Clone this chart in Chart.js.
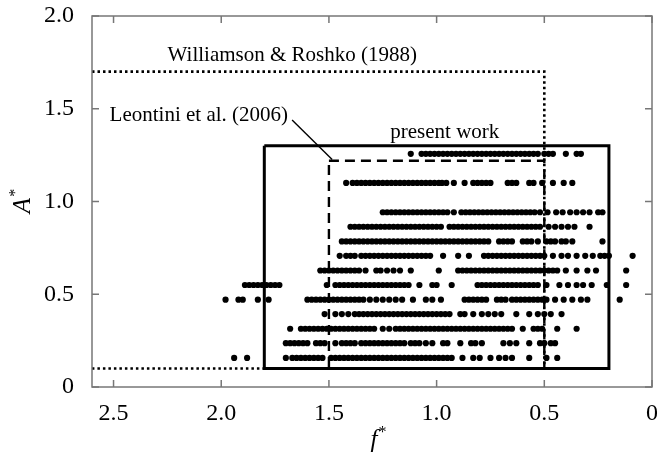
<!DOCTYPE html>
<html><head><meta charset="utf-8">
<script src="https://cdn.jsdelivr.net/npm/chart.js@4.4.1/dist/chart.umd.min.js"></script>
<style>html,body{margin:0;padding:0;background:#fff}canvas{display:block}</style>
</head><body>
<canvas id="c" width="657" height="454"></canvas>
<script>
// ---- tick labels ----
const xTicks = [2.5, 2.0, 1.5, 1.0, 0.5, 0];
const yTicks = [0, 0.5, 1.0, 1.5, 2.0];

// ---- amplitude rows (A*) ----
const rowAmplitudes = [1.257, 1.100, 0.942, 0.864, 0.785, 0.707, 0.628, 0.550, 0.471, 0.393, 0.314, 0.236, 0.157];

// ---- frequencies (f*) read for each row ----
const fRow1257 = [1.12,1.07,1.05,1.03,1.01,0.99,0.97,0.95,0.93,0.91,0.89,0.87,0.85,0.83,0.81,0.79,0.77,0.75,0.73,0.71,0.69,0.67,0.65,0.63,0.61,0.59,0.57,0.55,0.53,0.50,0.48,0.46,0.40,0.35,0.33];
const fRow1100 = [1.42,1.39,1.37,1.35,1.33,1.31,1.29,1.27,1.25,1.23,1.21,1.19,1.17,1.15,1.13,1.11,1.09,1.07,1.05,1.03,1.01,0.99,0.975,0.955,0.92,0.87,0.83,0.81,0.79,0.77,0.75,0.67,0.65,0.63,0.57,0.55,0.51,0.46,0.41,0.37];
const fRow0942 = [1.25,1.23,1.21,1.19,1.17,1.15,1.13,1.11,1.09,1.07,1.05,1.03,1.01,0.99,0.97,0.95,0.92,0.885,0.865,0.845,0.825,0.805,0.785,0.765,0.745,0.725,0.705,0.685,0.665,0.645,0.625,0.605,0.585,0.565,0.545,0.52,0.485,0.445,0.415,0.38,0.35,0.32,0.29,0.25,0.23];
const fRow0864 = [1.40,1.38,1.36,1.34,1.32,1.30,1.28,1.26,1.24,1.22,1.20,1.18,1.16,1.14,1.12,1.10,1.08,1.06,1.04,1.02,1.00,0.98,0.94,0.92,0.90,0.88,0.86,0.84,0.82,0.80,0.78,0.76,0.74,0.72,0.70,0.68,0.66,0.64,0.62,0.60,0.58,0.56,0.54,0.52,0.48,0.45,0.42,0.39,0.36,0.29];
const fRow0785 = [1.44,1.42,1.40,1.38,1.36,1.34,1.32,1.30,1.28,1.26,1.24,1.22,1.20,1.18,1.16,1.14,1.12,1.10,1.08,1.06,1.04,1.02,1.00,0.98,0.96,0.94,0.92,0.90,0.88,0.86,0.84,0.82,0.80,0.78,0.76,0.71,0.69,0.67,0.65,0.60,0.58,0.56,0.53,0.49,0.47,0.45,0.42,0.40,0.37,0.23];
const fRow0707 = [1.45,1.42,1.40,1.38,1.35,1.33,1.31,1.29,1.27,1.25,1.23,1.21,1.19,1.17,1.15,1.13,1.11,1.09,1.07,1.05,1.03,0.97,0.90,0.85,0.78,0.76,0.74,0.72,0.70,0.68,0.66,0.64,0.62,0.60,0.58,0.56,0.54,0.52,0.50,0.46,0.42,0.39,0.35,0.31,0.275,0.24,0.22,0.20,0.09];
const fRow0628 = [1.54,1.52,1.50,1.48,1.46,1.44,1.42,1.40,1.38,1.36,1.33,1.28,1.26,1.23,1.20,1.17,1.12,0.99,0.90,0.88,0.86,0.84,0.82,0.80,0.78,0.76,0.74,0.72,0.70,0.68,0.66,0.64,0.62,0.60,0.58,0.56,0.54,0.52,0.50,0.48,0.46,0.44,0.40,0.35,0.30,0.26,0.12];
const fRow0550 = [1.89,1.87,1.85,1.83,1.81,1.79,1.77,1.75,1.73,1.51,1.47,1.45,1.43,1.41,1.39,1.37,1.35,1.33,1.31,1.29,1.27,1.25,1.23,1.21,1.19,1.17,1.15,1.13,1.08,1.02,1.00,0.93,0.81,0.79,0.77,0.75,0.73,0.71,0.69,0.67,0.65,0.63,0.61,0.59,0.57,0.55,0.53,0.49,0.43,0.39,0.35,0.32,0.28,0.21,0.12];
const fRow0471 = [1.98,1.92,1.90,1.83,1.78,1.60,1.58,1.56,1.54,1.52,1.50,1.48,1.46,1.44,1.42,1.40,1.38,1.36,1.34,1.31,1.28,1.25,1.22,1.19,1.16,1.11,1.05,1.02,0.98,0.87,0.85,0.83,0.81,0.79,0.77,0.72,0.70,0.68,0.65,0.63,0.61,0.59,0.57,0.55,0.53,0.51,0.49,0.45,0.41,0.37,0.33,0.30,0.15];
const fRow0393 = [1.52,1.47,1.44,1.41,1.38,1.36,1.34,1.32,1.30,1.28,1.26,1.24,1.22,1.20,1.18,1.16,1.14,1.12,1.10,1.08,1.06,1.04,1.02,1.00,0.98,0.96,0.94,0.89,0.87,0.83,0.79,0.76,0.73,0.70,0.63,0.57,0.53,0.50,0.47,0.42];
const fRow0314 = [1.68,1.63,1.61,1.59,1.57,1.55,1.53,1.51,1.49,1.47,1.45,1.43,1.41,1.39,1.37,1.35,1.33,1.31,1.29,1.25,1.22,1.19,1.17,1.15,1.13,1.11,1.09,1.07,1.05,1.03,1.01,0.99,0.97,0.95,0.93,0.91,0.89,0.87,0.85,0.83,0.81,0.79,0.77,0.75,0.73,0.71,0.69,0.67,0.65,0.60,0.55,0.53,0.51,0.44,0.35];
const fRow0236 = [1.70,1.68,1.66,1.64,1.62,1.60,1.56,1.54,1.52,1.47,1.44,1.42,1.40,1.38,1.35,1.33,1.31,1.29,1.27,1.25,1.23,1.21,1.19,1.17,1.15,1.12,1.10,1.08,1.05,1.02,0.97,0.95,0.89,0.84,0.82,0.79,0.69,0.66,0.63,0.57,0.52,0.50,0.47,0.45];
const fRow0157 = [1.94,1.88,1.70,1.67,1.65,1.63,1.61,1.59,1.57,1.55,1.53,1.49,1.47,1.45,1.43,1.41,1.39,1.37,1.35,1.33,1.31,1.29,1.27,1.25,1.23,1.21,1.19,1.17,1.15,1.13,1.11,1.09,1.07,1.05,1.03,1.01,0.99,0.97,0.95,0.93,0.88,0.83,0.80,0.75,0.71,0.68,0.65,0.57,0.49,0.44];
const rowFrequencies = [fRow1257,fRow1100,fRow0942,fRow0864,fRow0785,fRow0707,fRow0628,fRow0550,fRow0471,fRow0393,fRow0314,fRow0236,fRow0157];

// ---- region boxes [f range], [A range] ----
const wrF = [2.6, 0.5], wrA = [0.1, 1.7];     // Williamson & Roshko (1988)
const leF = [1.5, 0.5], leA = [0.1, 1.22];    // Leontini et al. (2006)
const pwF = [1.8, 0.2], pwA = [0.1, 1.3];     // present work
const leaderF = [1.671, 1.485], leaderA = [1.439, 1.227];

const labels = [
  {text:'Williamson & Roshko (1988)', f:1.67, a:1.785},
  {text:'Leontini et al. (2006)', f:2.104, a:1.466},
  {text:'present work', f:0.962, a:1.372}
];

const points = [];
rowFrequencies.forEach((row, i) => row.forEach(f => points.push({x:f, y:rowAmplitudes[i]})));

function boxPath(fr, ar, closed) {
  const p = [{x:fr[0],y:ar[1]},{x:fr[1],y:ar[1]},{x:fr[1],y:ar[0]},{x:fr[0],y:ar[0]}];
  if (closed) p.push({x:fr[0],y:ar[1]});
  return p;
}
const lineDs = (data, dash, w) => ({type:'scatter', data, showLine:true, borderColor:'#000', borderWidth:w,
  borderDash:dash, pointRadius:0, fill:false, tension:0, order:0, borderCapStyle:'butt', borderJoinStyle:'miter'});

const FONT = "'Liberation Serif', 'Times New Roman', serif";

const decor = {
  id:'decor',
  afterDraw(chart){
    const {ctx, chartArea:a, scales:{x, y}} = chart;
    ctx.save();
    ctx.strokeStyle = '#777'; ctx.lineWidth = 1.5;
    ctx.strokeRect(a.left, a.top, a.right - a.left, a.bottom - a.top);
    const L = 7;
    ctx.beginPath();
    xTicks.forEach(v => { const px = x.getPixelForValue(v);
      ctx.moveTo(px, a.bottom); ctx.lineTo(px, a.bottom - L);
      ctx.moveTo(px, a.top); ctx.lineTo(px, a.top + L); });
    yTicks.forEach(v => { const py = y.getPixelForValue(v);
      ctx.moveTo(a.left, py); ctx.lineTo(a.left + L, py);
      ctx.moveTo(a.right, py); ctx.lineTo(a.right - L, py); });
    ctx.stroke();
    // annotations
    ctx.fillStyle = '#000';
    ctx.font = '21px ' + FONT;
    ctx.textAlign = 'center'; ctx.textBaseline = 'middle';
    labels.forEach(l => ctx.fillText(l.text, x.getPixelForValue(l.f), y.getPixelForValue(l.a)));
    // axis titles
    const drawTitle = (main, cx, cy, rot) => {
      ctx.save();
      ctx.translate(cx, cy); ctx.rotate(rot);
      ctx.font = 'italic 25px ' + FONT;
      const w1 = ctx.measureText(main).width;
      ctx.font = '16px ' + FONT;
      const w2 = ctx.measureText('*').width;
      const x0 = -(w1 + w2) / 2;
      ctx.textAlign = 'left'; ctx.textBaseline = 'middle';
      ctx.font = 'italic 25px ' + FONT;
      ctx.fillText(main, x0, 0);
      ctx.font = '16px ' + FONT;
      ctx.fillText('*', x0 + w1 + 1, -7);
      ctx.restore();
    };
    drawTitle('A', a.left - 69, (a.top + a.bottom) / 2, -Math.PI / 2);
    drawTitle('f', (a.left + a.right) / 2 + 6, a.bottom + 53, 0);
    ctx.restore();
  }
};

new Chart(document.getElementById('c'), {
  type:'scatter',
  data:{datasets:[
    lineDs(boxPath(wrF, wrA, false), [2.5, 3], 2.6),
    lineDs(boxPath(leF, leA, true), [10, 6], 2.4),
    lineDs(boxPath(pwF, pwA, true), [], 3),
    lineDs([{x:leaderF[0],y:leaderA[0]},{x:leaderF[1],y:leaderA[1]}], [], 1.4),
    {type:'scatter', data:points, pointRadius:3.1, pointBackgroundColor:'#000', pointBorderWidth:0, order:1}
  ]},
  options:{
    responsive:false, animation:false, events:[],
    layout:{padding:{top:16, right:5, left:0, bottom:0}},
    plugins:{legend:{display:false}, tooltip:{enabled:false}},
    scales:{
      x:{type:'linear', min:0, max:2.6, reverse:true,
        afterBuildTicks: s => { s.ticks = xTicks.map(v => ({value:v})); },
        afterFit: s => { s.height = 67; s.paddingLeft = 0; s.paddingRight = 0; },
        grid:{display:false, drawTicks:false}, border:{display:false},
        ticks:{padding:12, color:'#000', font:{family:FONT, size:24}, maxRotation:0,
          callback: v => v === 0 ? '0' : v.toFixed(1)}},
      y:{type:'linear', min:0, max:2.0,
        afterBuildTicks: s => { s.ticks = yTicks.map(v => ({value:v})); },
        afterFit: s => { s.width = 92; s.paddingTop = 0; s.paddingBottom = 0; },
        grid:{display:false, drawTicks:false}, border:{display:false},
        ticks:{padding:18, color:'#000', font:{family:FONT, size:24},
          callback: v => v === 0 ? '0' : v.toFixed(1)}}
    }
  },
  plugins:[decor]
});
</script>
</body></html>
